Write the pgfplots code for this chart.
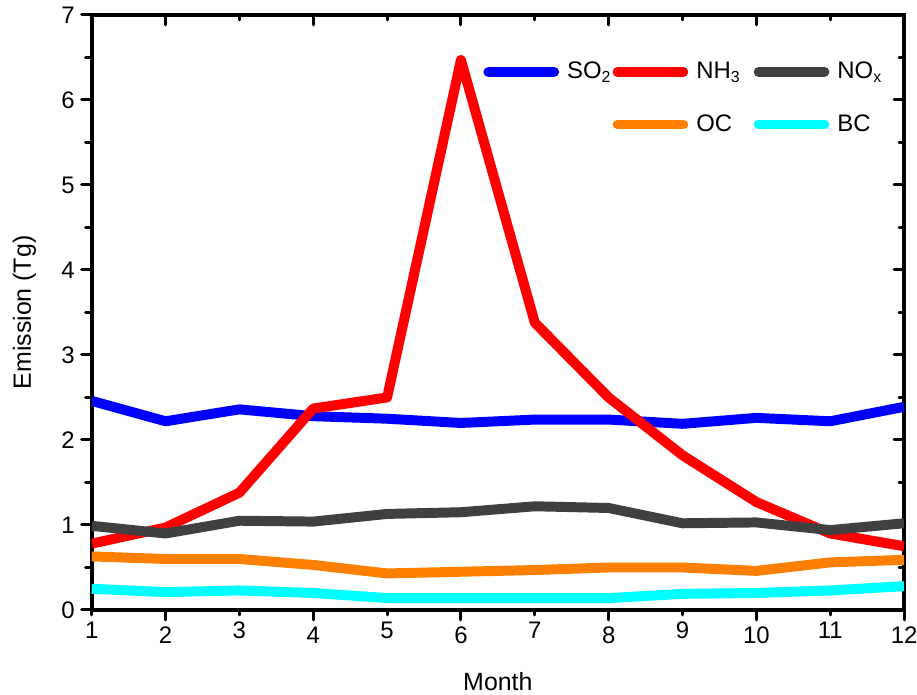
\documentclass[border=0pt]{standalone}
\usepackage{fontspec}
\setmainfont{Liberation Sans}
\usepackage{pgfplots}
\pgfplotsset{compat=1.18}
\definecolor{cso}{RGB}{0,0,255}
\definecolor{cnh}{RGB}{255,0,0}
\definecolor{cno}{RGB}{64,64,64}
\definecolor{coc}{RGB}{255,128,0}
\definecolor{cbc}{RGB}{0,255,255}
\begin{document}
\begin{tikzpicture}
\begin{axis}[
  scale only axis, width=407.5pt, height=298.5pt,
  xmin=1, xmax=12, ymin=0, ymax=7,
  axis line style={line width=2pt},
  tick align=inside, xtick pos=right, ytick pos=right,
  xtick={2,4,...,12}, minor xtick={1,3,...,11},
  ytick={0,...,7}, minor ytick={0.5,1.5,...,6.5},
  major tick length=5pt, minor tick length=2.5pt,
  every tick/.style={black, line width=1.5pt, line cap=round},
  xticklabels={}, yticklabels={},
  tick label style={opacity=0},
]
\end{axis}
\begin{axis}[
  name=main,
  scale only axis, width=407.5pt, height=298.5pt,
  xmin=1, xmax=12, ymin=0, ymax=7,
  axis line style={line width=2pt},
  tick align=outside, xtick pos=left, ytick pos=left,
  xtick={2,4,...,12},
  extra x ticks={1,3,...,11},
  extra x tick style={major tick length=2.5pt},
  ytick={0,...,7}, minor ytick={0.5,1.5,...,6.5},
  major tick length=5pt, minor tick length=3pt,
  every tick/.style={black, line width=1.5pt, line cap=round},
  tick label style={font=\fontsize{12}{14}\selectfont},
  /pgf/number format/assume math mode=true,
  xlabel={Month}, ylabel={Emission (Tg)},
  label style={font=\fontsize{12.5}{15}\selectfont},
  xlabel style={at={(axis description cs:0.5,-0.1357)}, anchor=base},
  ylabel style={at={(axis description cs:-0.075,0.5)}, anchor=base},
  no markers,
  every axis plot/.append style={line width=5pt, line join=round},
  legend columns=3,
  legend image code/.code={\draw[#1, line cap=round] (0pt,0pt) -- (33pt,0pt);},
  legend style={draw=none, fill=none, inner sep=0pt, outer sep=0pt,
    at={(rel axis cs:0.4822,0.9208)}, anchor=north west,
    font=\fontsize{12}{14}\selectfont,
    cells={anchor=west},
    nodes={inner xsep=0pt, inner ysep=0pt},
    row sep=16.5pt,
    /tikz/column 1/.style={column sep=4pt},
    /tikz/column 2/.style={column sep=0.5pt},
    /tikz/column 3/.style={column sep=4pt},
    /tikz/column 4/.style={column sep=6.5pt},
    /tikz/column 5/.style={column sep=4pt},
  },
]
\addplot[cso] coordinates {(1,2.46) (2,2.22) (3,2.36) (4,2.28) (5,2.25) (6,2.20) (7,2.24) (8,2.24) (9,2.19) (10,2.26) (11,2.22) (12,2.39)};
\addlegendentry{SO\textsubscript{2}}
\addplot[cnh] coordinates {(1,0.78) (2,0.97) (3,1.38) (4,2.37) (5,2.50) (6,6.47) (7,3.38) (8,2.50) (9,1.82) (10,1.27) (11,0.90) (12,0.75)};
\addlegendentry{NH\textsubscript{3}}
\addplot[cno] coordinates {(1,0.99) (2,0.90) (3,1.05) (4,1.04) (5,1.13) (6,1.15) (7,1.22) (8,1.20) (9,1.02) (10,1.03) (11,0.94) (12,1.02)};
\addlegendentry{NO\textsubscript{x}}
\addlegendimage{empty legend}
\addlegendentry{}
\addplot[coc] coordinates {(1,0.63) (2,0.60) (3,0.60) (4,0.53) (5,0.43) (6,0.45) (7,0.47) (8,0.50) (9,0.50) (10,0.46) (11,0.56) (12,0.59)};
\addlegendentry{OC}
\addplot[cbc] coordinates {(1,0.25) (2,0.21) (3,0.23) (4,0.20) (5,0.14) (6,0.14) (7,0.14) (8,0.14) (9,0.19) (10,0.20) (11,0.23) (12,0.28)};
\addlegendentry{BC}
\end{axis}
\pgfresetboundingbox
\path[use as bounding box] ([xshift=-46pt,yshift=-42.5pt]main.south west) rectangle ([xshift=6.5pt,yshift=7.5pt]main.north east);
\end{tikzpicture}
\end{document}
